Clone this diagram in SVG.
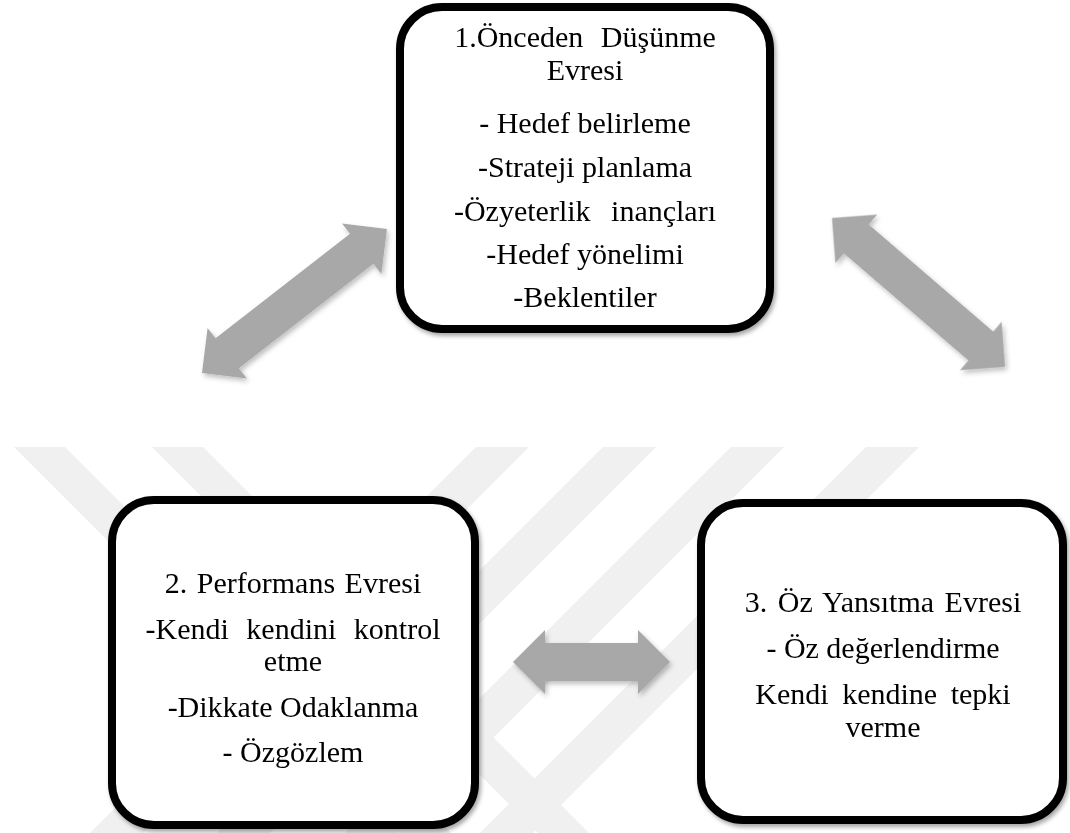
<svg xmlns="http://www.w3.org/2000/svg" width="1070" height="833" viewBox="0 0 1070 833">
  <defs>
    <filter id="shadow" x="-10%" y="-10%" width="130%" height="130%">
      <feDropShadow dx="2" dy="3" stdDeviation="2" flood-color="#000" flood-opacity="0.35"/>
    </filter>
    <filter id="ashadow" x="-10%" y="-20%" width="130%" height="150%">
      <feDropShadow dx="2" dy="3" stdDeviation="2.5" flood-color="#000" flood-opacity="0.25"/>
    </filter>
  </defs>
  <rect x="0" y="0" width="1070" height="833" fill="#ffffff"/>
  <g id="watermark" fill="#f0f0f0">
    <polygon points="14,447 65,447 451,833 400,833"/>
    <polygon points="152,447 203,447 589,833 538,833"/>
    <polygon points="476,447 529,447 143,833 90,833"/>
    <polygon points="603,447 656,447 270,833 217,833"/>
    <polygon points="731,447 784,447 398,833 345,833"/>
    <polygon points="866,447 919,447 533,833 480,833"/>
  </g>
  <g id="connectors" fill="#a8a8a8" filter="url(#ashadow)">
    <path transform="translate(202,373) rotate(-37.9)" d="M0,0 L32,-32 L32,-19 L202.4,-19 L202.4,-32 L234.4,0 L202.4,32 L202.4,19 L32,19 L32,32 Z"/>
    <path transform="translate(832,218) rotate(40.7)" d="M0,0 L32,-32 L32,-19 L196.3,-19 L196.3,-32 L228.3,0 L196.3,32 L196.3,19 L32,19 L32,32 Z"/>
    <path transform="translate(513,662)" d="M0,0 L32,-32 L32,-19 L125,-19 L125,-32 L157,0 L125,32 L125,19 L32,19 L32,32 Z"/>
  </g>
  <g id="node1">
    <rect x="400" y="7" width="370" height="322" rx="42" ry="42" fill="#ffffff" stroke="#000000" stroke-width="8" filter="url(#shadow)"/>
    <g font-size="30px" text-anchor="middle" fill="#000000">
      <text x="585" y="47" word-spacing="10" font-family="'Liberation Serif'">1.Önceden Düşünme</text>
      <text x="585" y="80" font-family="'Liberation Serif'">Evresi</text>
      <text x="585" y="133" font-family="'Liberation Serif'">- Hedef belirleme</text>
      <text x="585" y="177" font-family="'Liberation Serif'">-Strateji planlama</text>
      <text x="585" y="221" word-spacing="13" font-family="'Liberation Serif'">-Özyeterlik inançları</text>
      <text x="585" y="264" font-family="'Liberation Serif'">-Hedef yönelimi</text>
      <text x="585" y="307" font-family="'Liberation Serif'">-Beklentiler</text>
    </g>
  </g>
  <g id="node2">
    <rect x="112" y="500" width="363" height="325" rx="42" ry="42" fill="#ffffff" stroke="#000000" stroke-width="8" filter="url(#shadow)"/>
    <g font-size="30px" text-anchor="middle" fill="#000000">
      <text x="293" y="593" word-spacing="2" font-family="'Liberation Serif'">2. Performans Evresi</text>
      <text x="293" y="639" word-spacing="10" font-family="'Liberation Serif'">-Kendi kendini kontrol</text>
      <text x="293" y="671" font-family="'Liberation Serif'">etme</text>
      <text x="293" y="717" font-family="'Liberation Serif'">-Dikkate Odaklanma</text>
      <text x="293" y="762" font-family="'Liberation Serif'">- Özgözlem</text>
    </g>
  </g>
  <g id="node3">
    <rect x="701" y="503" width="362" height="317" rx="42" ry="42" fill="#ffffff" stroke="#000000" stroke-width="8" filter="url(#shadow)"/>
    <g font-size="30px" text-anchor="middle" fill="#000000">
      <text x="883" y="612" word-spacing="3" font-family="'Liberation Serif'">3. Öz Yansıtma Evresi</text>
      <text x="883" y="658" font-family="'Liberation Serif'">- Öz değerlendirme</text>
      <text x="883" y="704" word-spacing="6" font-family="'Liberation Serif'">Kendi kendine tepki</text>
      <text x="883" y="737" font-family="'Liberation Serif'">verme</text>
    </g>
  </g>
</svg>
